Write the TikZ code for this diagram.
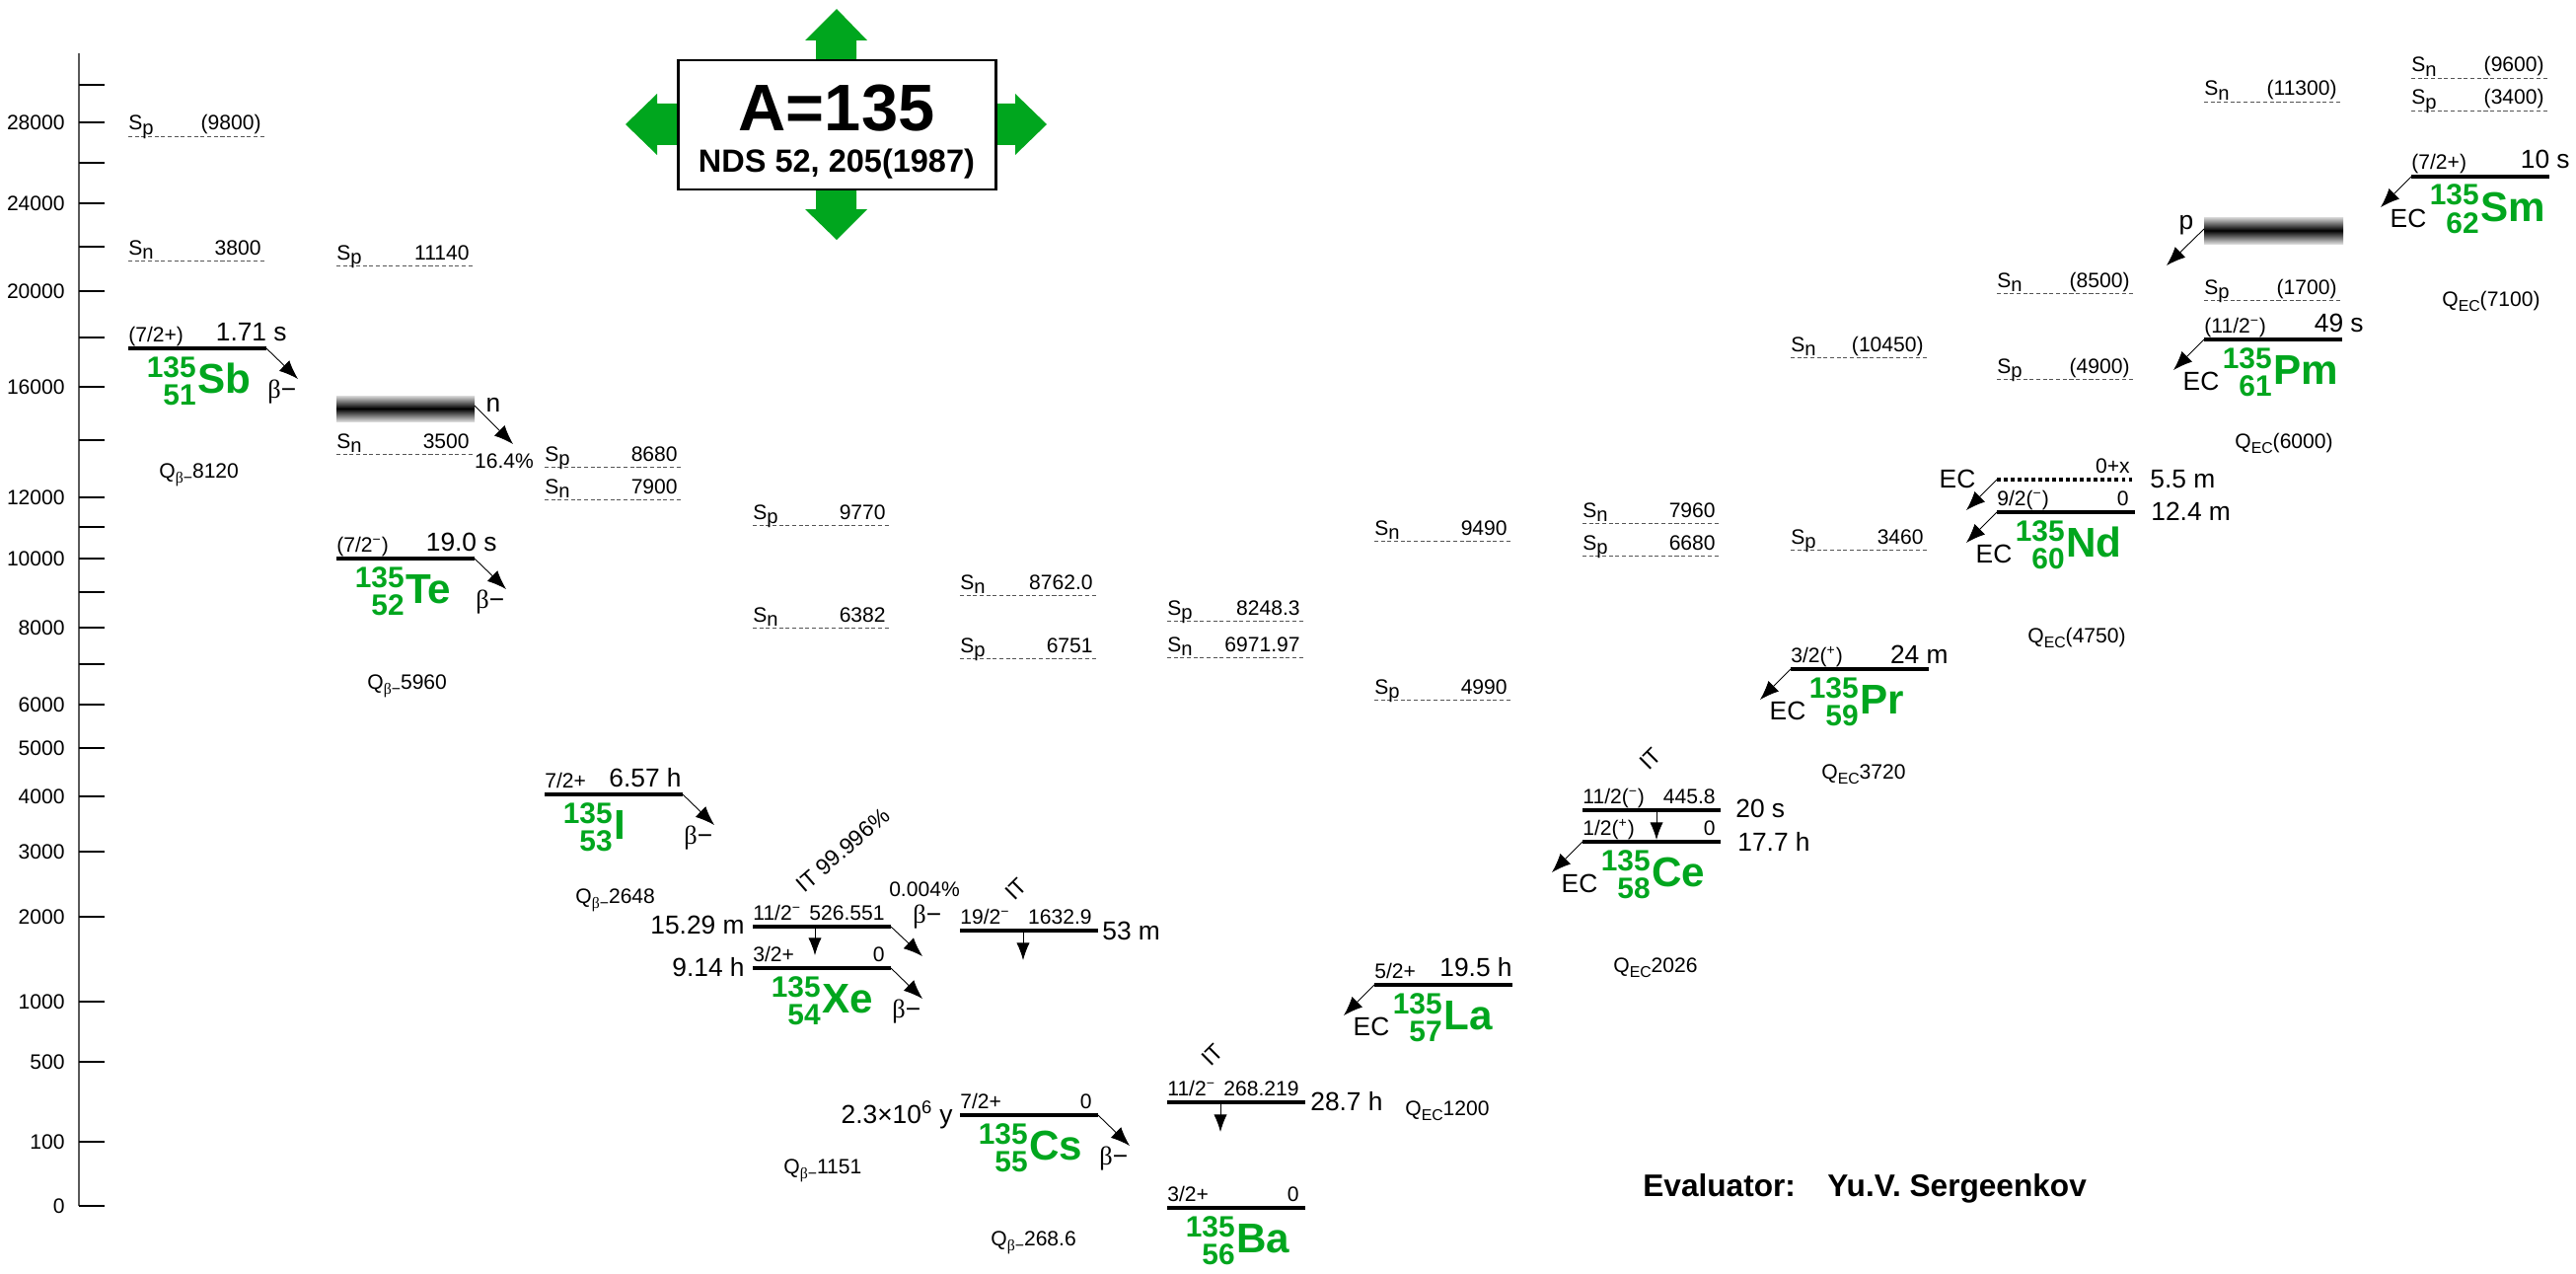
\documentclass[tikz,border=0pt]{standalone}
\usepackage{fontspec}
\setmainfont{Liberation Sans}
\newfontfamily\betafont{Liberation Serif}
\usetikzlibrary{arrows.meta}

\definecolor{nucgreen}{RGB}{0,166,30}
\definecolor{sepgray}{RGB}{85,85,85}

\newcommand{\betam}{{\betafont β}−}
\newcommand{\supminus}{\textsuperscript{−}}
\newcommand{\supplus}{\textsuperscript{+}}
% lowered index for S_n, S_p and Q values
\newcommand{\sepidx}[1]{\raisebox{-2.6pt}{\fontsize{11.5}{12}\selectfont #1}}
\newcommand{\qidx}[1]{\raisebox{-3pt}{\fontsize{9}{10}\selectfont #1}}

% separation energy line (dashed) : name, x0, y, n/p, value
\newcommand{\sepline}[5]{%
  \draw[sepl] (#2,#3) -- ++(140,0);
  \node[lab, anchor=base west] (#1) at (#2,#3-6) {S\sepidx{#4}};
  \node[lab, anchor=base east] (#1v) at (#2+135,#3-6) {#5};}

% level line : name, x0, y, spin
\newcommand{\lvline}[4]{%
  \draw[lvl] (#2,#3) coordinate (#1l) -- (#2+140,#3) coordinate (#1r);
  \node[lab, anchor=base west] (#1j) at (#2,#3-7) {#4};}

% nuclide symbol : name, x0, y, A, Z, symbol
\newcommand{\nuclide}[6]{%
  \node[nsym, anchor=base west] (#1) at (#2+70,#3+45) {#6};
  \node[nnum, anchor=base east] (#1a) at (#2+69,#3+29) {#4};
  \node[nnum, anchor=base east] (#1z) at (#2+69,#3+57) {#5};}

% beta- decay from the right end of a level
\newcommand{\betadecay}[1]{%
  \path (#1r) ++(32,31) coordinate (#1b);
  \draw[decay] (#1r) -- (#1b);
  \node[thalf, anchor=base west] (#1bl) at ([shift={(1,50)}]#1r) {\betam};}

% EC decay from the left end of a level
\newcommand{\ecdecay}[1]{%
  \path (#1l) ++(-31,31) coordinate (#1c);
  \draw[decay] (#1l) -- (#1c);
  \node[thalf] (#1cl) at ([shift={(-3,42)}]#1l) {EC};}

% Q value : name, x0, y, text
\newcommand{\qval}[4]{%
  \node[lab, anchor=base west] (#1) at (#2+31,#3+7) {#4};}

\begin{document}
\begin{tikzpicture}[x=0.02cm, y=-0.02cm,
  lvl/.style={line width=2.3pt},
  sepl/.style={line width=0.5pt, sepgray, dash pattern=on 2.3pt off 1.5pt},
  decay/.style={line width=0.5pt, -{Latex[length=11pt,width=8.5pt]}},
  itarrow/.style={line width=0.5pt, -{Latex[length=10pt,width=7.5pt]}},
  lab/.style={inner sep=0pt, font=\fontsize{12}{14}\selectfont},
  thalf/.style={inner sep=0pt, font=\fontsize{15}{17}\selectfont},
  itlab/.style={inner sep=0pt, rotate=45, anchor=base west, font=\fontsize{13}{15}\selectfont},
  nsym/.style={inner sep=0pt, text=nucgreen, font=\fontsize{24}{26}\selectfont\bfseries},
  nnum/.style={inner sep=0pt, text=nucgreen, font=\fontsize{17}{19}\selectfont\bfseries},
  band/.style={top color=black!15, bottom color=black!15, middle color=black}]

  \useasboundingbox (0,0) rectangle (2611,1291);

  % ==========================================
  % ENERGY AXIS
  % ==========================================
  \draw[gray!70!black, line width=1.2pt] (80,54) -- (80,1222);
  \foreach \y in {86,124,165,206,250,295,342,392,446,504,534,566,600,636,673,714,758,807,863,929,1015,1076,1157,1222}
    \draw[line width=0.6pt] (80,\y) -- (106,\y);
  \foreach \y/\e in {124/28000,206/24000,295/20000,392/16000,504/12000,566/10000,636/8000,714/6000,758/5000,807/4000,863/3000,929/2000,1015/1000,1076/500,1157/100,1222/0}
    \node[lab, anchor=east] (ax\e) at (66,\y) {\e};

  % ==========================================
  % TITLE BOX
  % ==========================================
  \fill[nucgreen] (827,61) -- (827,41) -- (816,41) -- (848,9) -- (879,41) -- (868,41) -- (868,61) -- cycle;
  \fill[nucgreen] (827,192) -- (827,212) -- (816,212) -- (848,243) -- (879,212) -- (868,212) -- (868,192) -- cycle;
  \fill[nucgreen] (687,105) -- (666,105) -- (666,95) -- (634,126) -- (666,157) -- (666,147) -- (687,147) -- cycle;
  \fill[nucgreen] (1009,105) -- (1029,105) -- (1029,95) -- (1061,126) -- (1029,157) -- (1029,147) -- (1009,147) -- cycle;
  \draw[line width=1.7pt, fill=white] (687,61) rectangle (1009,192);
  \node[inner sep=0pt, font=\fontsize{38}{40}\selectfont\bfseries] (title) at (848,110) {A=135};
  \node[inner sep=0pt, font=\fontsize{18.5}{20}\selectfont\bfseries] (ref) at (848,166) {NDS 52, 205(1987)};

  % ==========================================
  % Sb
  % ==========================================
  \sepline{SbSp}{130}{138}{p}{(9800)}
  \sepline{SbSn}{130}{264}{n}{3800}
  \lvline{Sb}{130}{353}{(7/2+)}
  \node[thalf, anchor=base east] (SbT) at (291,345) {1.71 s};
  \nuclide{SbN}{130}{353}{135}{51}{Sb}
  \betadecay{Sb}
  \qval{SbQ}{130}{477}{Q\qidx{\betam}8120}

  % ==========================================
  % Te (with delayed neutrons)
  % ==========================================
  \sepline{TeSp}{341}{269}{p}{11140}
  \shade[band] (341,401) rectangle (481,427);
  \coordinate (TeBand) at (481,411);
  \coordinate (TeN) at (520,450);
  \draw[decay] (TeBand) -- (TeN);
  \node[thalf] (TeNl) at (500,410) {n};
  \sepline{TeSn}{341}{460}{n}{3500}
  \node[lab] (TePn) at (511,467) {16.4\%};
  \lvline{Te}{341}{566}{(7/2\supminus)}
  \node[thalf, anchor=base east] (TeT) at (504,558) {19.0 s};
  \nuclide{TeN}{341}{566}{135}{52}{Te}
  \betadecay{Te}
  \qval{TeQ}{341}{691}{Q\qidx{\betam}5960}

  % ==========================================
  % I
  % ==========================================
  \sepline{ISp}{552}{473}{p}{8680}
  \sepline{ISn}{552}{506}{n}{7900}
  \lvline{I}{552}{805}{7/2+}
  \node[thalf, anchor=base east] (IT) at (691,797) {6.57 h};
  \nuclide{IN}{552}{805}{135}{53}{I}
  \betadecay{I}
  \qval{IQ}{552}{908}{Q\qidx{\betam}2648}

  % ==========================================
  % Xe (isomer + ground state)
  % ==========================================
  \sepline{XeSp}{763}{532}{p}{9770}
  \sepline{XeSn}{763}{636}{n}{6382}
  \lvline{Xem}{763}{939}{11/2\supminus}
  \node[lab, anchor=base east] (XemE) at (897,932) {526.551};
  \node[thalf, anchor=base east] (XemT) at (755,946) {15.29 m};
  \lvline{Xe}{763}{981}{3/2+}
  \node[lab, anchor=base east] (XeE) at (897,974) {0};
  \node[thalf, anchor=base east] (XeT) at (755,989) {9.14 h};
  % isomeric transition
  \coordinate (XemIt) at (826,939);
  \coordinate (XemItb) at (826,968);
  \draw[itarrow] (XemIt) -- (XemItb);
  \node[itlab, rotate=-4] (XemItl) at (815,906) {IT 99.996\%};
  % weak beta branch of the isomer
  \path (Xemr) ++(32,30) coordinate (Xemb);
  \draw[decay] (Xemr) -- (Xemb);
  \node[thalf, anchor=base west] (Xembl) at (925,935) {\betam};
  \node[lab] (XemPb) at (937,901) {0.004\%};
  \nuclide{XeN}{763}{981}{135}{54}{Xe}
  \betadecay{Xe}
  \qval{XeQ}{763}{1182}{Q\qidx{\betam}1151}

  % ==========================================
  % Cs
  % ==========================================
  \sepline{CsSn}{973}{603}{n}{8762.0}
  \sepline{CsSp}{973}{667}{p}{6751}
  \lvline{Csm}{973}{943}{19/2\supminus}
  \node[lab, anchor=base east] (CsmE) at (1107,936) {1632.9};
  \node[thalf, anchor=base west] (CsmT) at (1117,952) {53 m};
  \coordinate (CsmIt) at (1037,943);
  \coordinate (CsmItb) at (1037,973);
  \draw[itarrow] (CsmIt) -- (CsmItb);
  \node[itlab] (CsmItl) at (1028,914) {IT};
  \lvline{Cs}{973}{1130}{7/2+}
  \node[lab, anchor=base east] (CsE) at (1107,1123) {0};
  \node[thalf, anchor=base east] (CsT) at (966,1138) {2.3×10\textsuperscript{6} y};
  \nuclide{CsN}{973}{1130}{135}{55}{Cs}
  \betadecay{Cs}
  \qval{CsQ}{973}{1255}{Q\qidx{\betam}268.6}

  % ==========================================
  % Ba (stable)
  % ==========================================
  \sepline{BaSp}{1183}{629}{p}{8248.3}
  \sepline{BaSn}{1183}{666}{n}{6971.97}
  \lvline{Bam}{1183}{1117}{11/2\supminus}
  \node[lab, anchor=base east] (BamE) at (1317,1110) {268.219};
  \node[thalf, anchor=base west] (BamT) at (1328,1125) {28.7 h};
  \coordinate (BamIt) at (1237,1117);
  \coordinate (BamItb) at (1237,1147);
  \draw[itarrow] (BamIt) -- (BamItb);
  \node[itlab] (BamItl) at (1227,1082) {IT};
  \lvline{Ba}{1183}{1224}{3/2+}
  \node[lab, anchor=base east] (BaE) at (1317,1217) {0};
  \nuclide{BaN}{1183}{1224}{135}{56}{Ba}

  % ==========================================
  % La
  % ==========================================
  \sepline{LaSn}{1393}{548}{n}{9490}
  \sepline{LaSp}{1393}{709}{p}{4990}
  \lvline{La}{1393}{998}{5/2+}
  \node[thalf, anchor=base east] (LaT) at (1533,989) {19.5 h};
  \nuclide{LaN}{1393}{998}{135}{57}{La}
  \ecdecay{La}
  \qval{LaQ}{1393}{1123}{Q\qidx{EC}1200}

  % ==========================================
  % Ce (isomer + ground state)
  % ==========================================
  \sepline{CeSn}{1604}{530}{n}{7960}
  \sepline{CeSp}{1604}{563}{p}{6680}
  \lvline{Cem}{1604}{821}{11/2(\supminus)}
  \node[lab, anchor=base east] (CemE) at (1739,814) {445.8};
  \node[thalf, anchor=base west] (CemT) at (1759,828) {20 s};
  \coordinate (CemIt) at (1679,821);
  \coordinate (CemItb) at (1679,851);
  \draw[itarrow] (CemIt) -- (CemItb);
  \node[itlab] (CemItl) at (1671,782) {IT};
  \lvline{Ce}{1604}{853}{1/2(\supplus)}
  \node[lab, anchor=base east] (CeE) at (1739,846) {0};
  \node[thalf, anchor=base west] (CeT) at (1761,862) {17.7 h};
  \nuclide{CeN}{1604}{853}{135}{58}{Ce}
  \ecdecay{Ce}
  \qval{CeQ}{1604}{978}{Q\qidx{EC}2026}

  % ==========================================
  % Pr
  % ==========================================
  \sepline{PrSn}{1815}{362}{n}{(10450)}
  \sepline{PrSp}{1815}{557}{p}{3460}
  \lvline{Pr}{1815}{678}{3/2(\supplus)}
  \node[thalf, anchor=base east] (PrT) at (1975,672) {24 m};
  \nuclide{PrN}{1815}{678}{135}{59}{Pr}
  \ecdecay{Pr}
  \qval{PrQ}{1815}{782}{Q\qidx{EC}3720}

  % ==========================================
  % Nd (0+x level + ground state)
  % ==========================================
  \sepline{NdSn}{2024}{297}{n}{(8500)}
  \sepline{NdSp}{2024}{384}{p}{(4900)}
  \draw[line width=2.3pt, dash pattern=on 2pt off 2pt] (2024,486) coordinate (Ndxl) -- (2164,486) coordinate (Ndxr);
  \node[lab, anchor=base east] (NdxE) at (2159,479) {0+x};
  \node[thalf, anchor=base west] (NdxT) at (2179,494) {5.5 m};
  \path (Ndxl) ++(-31,31) coordinate (Ndxc);
  \draw[decay] (Ndxl) -- (Ndxc);
  \node[thalf] (Ndxcl) at (1984,485) {EC};
  \lvline{Nd}{2024}{519}{9/2(\supminus)}
  \node[lab, anchor=base east] (NdE) at (2158,512) {0};
  \node[thalf, anchor=base west] (NdT) at (2180,527) {12.4 m};
  \nuclide{NdN}{2024}{519}{135}{60}{Nd}
  \ecdecay{Nd}
  \qval{NdQ}{2024}{644}{Q\qidx{EC}(4750)}

  % ==========================================
  % Pm (with delayed protons)
  % ==========================================
  \sepline{PmSn}{2234}{103}{n}{(11300)}
  \shade[band] (2234,220) rectangle (2375,247);
  \coordinate (PmBand) at (2234,232);
  \coordinate (PmP) at (2196,269);
  \draw[decay] (PmBand) -- (PmP);
  \node[thalf] (PmPl) at (2216,228) {p};
  \sepline{PmSp}{2234}{304}{p}{(1700)}
  \lvline{Pm}{2234}{344}{(11/2\supminus)}
  \node[thalf, anchor=base east] (PmT) at (2396,336) {49 s};
  \nuclide{PmN}{2234}{344}{135}{61}{Pm}
  \ecdecay{Pm}
  \qval{PmQ}{2234}{447}{Q\qidx{EC}(6000)}

  % ==========================================
  % Sm
  % ==========================================
  \sepline{SmSn}{2444}{79}{n}{(9600)}
  \sepline{SmSp}{2444}{112}{p}{(3400)}
  \lvline{Sm}{2444}{179}{(7/2+)}
  \node[thalf, anchor=base east] (SmT) at (2605,171) {10 s};
  \nuclide{SmN}{2444}{179}{135}{62}{Sm}
  \ecdecay{Sm}
  \qval{SmQ}{2444}{303}{Q\qidx{EC}(7100)}

  % Evaluator
  \node[inner sep=0pt, anchor=base west, font=\fontsize{18}{20}\selectfont\bfseries] (evalA) at (1665,1212) {Evaluator:};
  \node[inner sep=0pt, anchor=base west, font=\fontsize{18}{20}\selectfont\bfseries] (evalB) at (1852,1212) {Yu.V. Sergeenkov};

\end{tikzpicture}
\end{document}
